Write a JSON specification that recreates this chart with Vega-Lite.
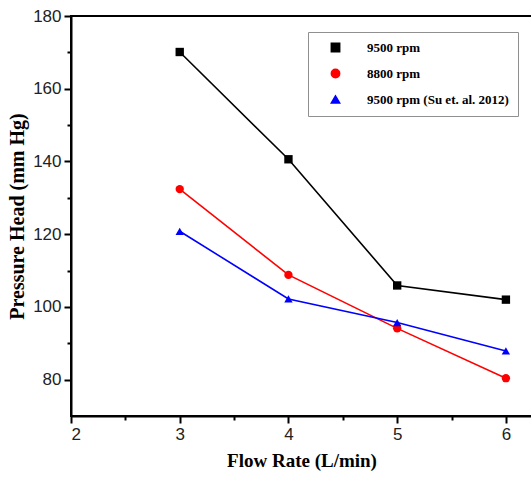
{
  "$schema": "https://vega.github.io/schema/vega-lite/v6.json",
  "width": 461,
  "height": 400,
  "autosize": {"type": "none"},
  "padding": {"left": 71, "top": 16, "right": 0, "bottom": 65},
  "background": "white",
  "config": {
    "view": {"stroke": "black", "strokeWidth": 2},
    "axis": {
      "grid": false,
      "domainColor": "black",
      "domainWidth": 2,
      "tickColor": "black",
      "tickWidth": 2,
      "tickSize": 7,
      "labelPadding": 3,
      "labelFont": "Liberation Sans",
      "labelFontSize": 17,
      "labelColor": "#222",
      "titleFont": "Liberation Serif",
      "titleFontWeight": "bold",
      "titleFontSize": 19,
      "titleColor": "black"
    }
  },
  "data": {
    "values": [
      {"flow": 3, "head": 170.1, "series": "9500 rpm"},
      {"flow": 4, "head": 140.6, "series": "9500 rpm"},
      {"flow": 5, "head": 105.9, "series": "9500 rpm"},
      {"flow": 6, "head": 102.0, "series": "9500 rpm"},
      {"flow": 3, "head": 132.4, "series": "8800 rpm"},
      {"flow": 4, "head": 108.8, "series": "8800 rpm"},
      {"flow": 5, "head": 94.1, "series": "8800 rpm"},
      {"flow": 6, "head": 80.4, "series": "8800 rpm"},
      {"flow": 3, "head": 120.8, "series": "9500 rpm (Su et. al. 2012)"},
      {"flow": 4, "head": 102.2, "series": "9500 rpm (Su et. al. 2012)"},
      {"flow": 5, "head": 95.7, "series": "9500 rpm (Su et. al. 2012)"},
      {"flow": 6, "head": 87.9, "series": "9500 rpm (Su et. al. 2012)"}
    ]
  },
  "layer": [
    {
      "mark": {"type": "point", "opacity": 0},
      "encoding": {
        "x": {"field": "flow", "type": "quantitative", "scale": {"domain": [2, 6.24], "nice": false, "zero": false},
              "axis": {"orient": "bottom", "values": [2.5, 3.5, 4.5, 5.5], "labels": false, "domain": false, "tickSize": 4, "title": null}},
        "y": {"field": "head", "type": "quantitative", "scale": {"domain": [70, 180], "nice": false, "zero": false},
              "axis": {"orient": "left", "values": [90, 110, 130, 150, 170], "labels": false, "domain": false, "tickSize": 4, "title": null}}
      }
    },
    {
      "mark": {"type": "line", "strokeWidth": 1.6},
      "encoding": {
        "x": {"field": "flow", "type": "quantitative", "axis": null},
        "y": {"field": "head", "type": "quantitative", "axis": null},
        "color": {"field": "series", "type": "nominal"}
      }
    },
    {
      "mark": {"type": "point", "filled": true, "opacity": 1, "size": 70},
      "encoding": {
        "x": {"field": "flow", "type": "quantitative",
              "axis": {"orient": "bottom", "values": [2, 3, 4, 5, 6], "title": "Flow Rate (L/min)", "titlePadding": 9}},
        "y": {"field": "head", "type": "quantitative",
              "axis": {"orient": "left", "values": [80, 100, 120, 140, 160, 180], "title": "Pressure Head (mm Hg)", "titlePadding": 5, "titleFontSize": 20}},
        "color": {
          "field": "series", "type": "nominal",
          "scale": {"domain": ["9500 rpm", "8800 rpm", "9500 rpm (Su et. al. 2012)"], "range": ["#000000", "#ff0000", "#0000ff"]},
          "legend": {
            "title": null,
            "orient": "none",
            "legendX": 237,
            "legendY": 16,
            "padding": 9,
            "strokeColor": "#909090",
            "fillColor": "white",
            "symbolSize": 70,
            "symbolOffset": 12,
            "labelOffset": 25,
            "rowPadding": 11,
            "labelFont": "Liberation Serif",
            "labelFontWeight": "bold",
            "labelFontSize": 13,
            "labelColor": "black"
          }
        },
        "shape": {
          "field": "series", "type": "nominal",
          "scale": {"domain": ["9500 rpm", "8800 rpm", "9500 rpm (Su et. al. 2012)"], "range": ["square", "circle", "triangle-up"]},
          "legend": null
        }
      }
    }
  ],
  "resolve": {"axis": {"x": "independent", "y": "independent"}}
}
